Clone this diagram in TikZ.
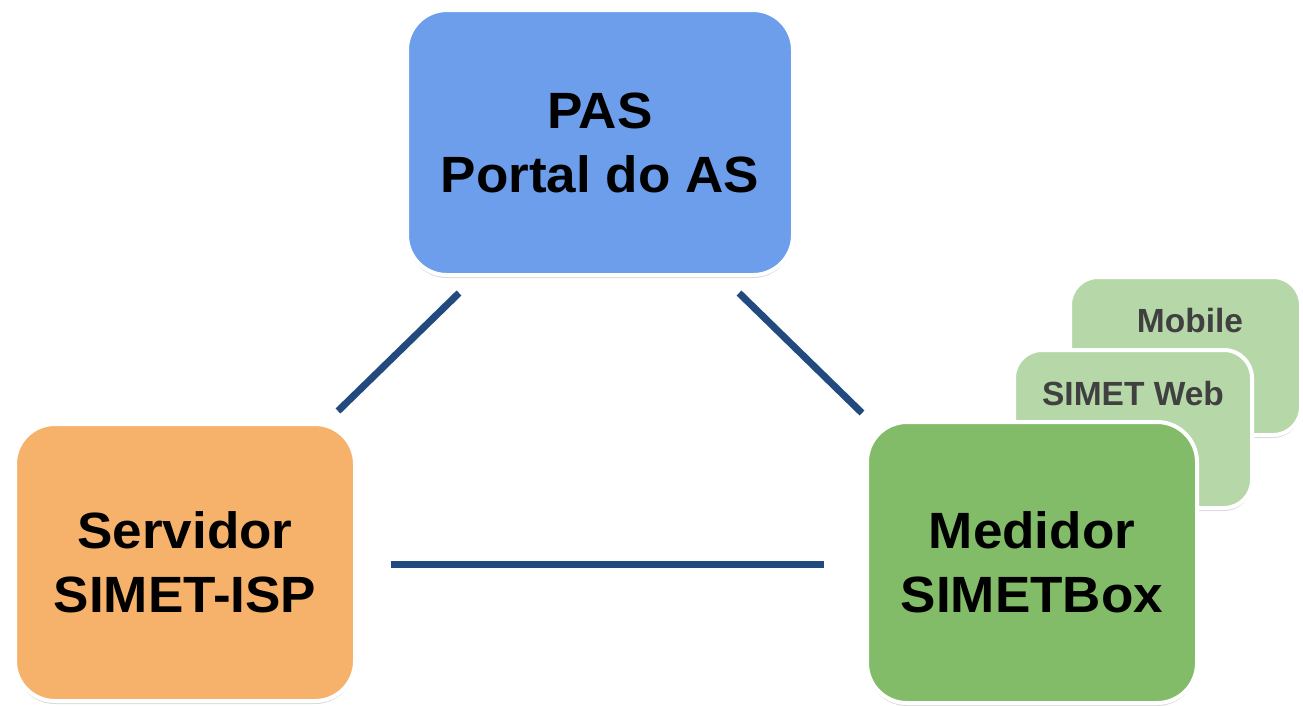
\documentclass[tikz,border=0pt]{standalone}
\usepackage{fontspec}
\setmainfont{Liberation Sans}
\newfontfamily\widefont[FakeStretch=1.04]{Liberation Sans}
\usetikzlibrary{shadows}
\definecolor{pasblue}{HTML}{6D9EEB}
\definecolor{srvorange}{HTML}{F6B26B}
\definecolor{medgreen}{HTML}{82BC68}
\definecolor{cardgreen}{HTML}{B6D7A8}
\definecolor{linkblue}{HTML}{224A7E}
\definecolor{cardtext}{HTML}{404040}
\begin{document}
\begin{tikzpicture}[x=1pt,y=-1pt,
  mainbox/.style={draw=white, line width=4pt, rounded corners=40pt,
    drop shadow={shadow xshift=0pt, shadow yshift=-3pt, opacity=0.3},
    align=center, inner sep=0pt,
    font=\widefont\fontsize{51}{64}\selectfont\bfseries},
  cardbox/.style={draw=white, line width=4pt, rounded corners=28pt, fill=cardgreen,
    drop shadow={shadow xshift=0pt, shadow yshift=-3pt, opacity=0.3}},
  cardlabel/.style={text=cardtext, inner sep=0pt, anchor=base,
    font=\fontsize{33.5}{40}\selectfont\bfseries},
  link/.style={draw=linkblue, line width=7pt}]
\useasboundingbox (0,0) rectangle (1303,705);
% background cards
\node[cardbox, minimum width=231pt, minimum height=158pt] (mobile) at (1185.5,356) {};
\node[cardlabel] (mobiletxt) at (1190,332) {Mobile};
\node[cardbox, minimum width=238pt, minimum height=158pt] (web) at (1133,429) {};
\node[cardlabel] (webtxt) at (1133,405) {SIMET Web};
% main boxes
\node[mainbox, fill=pasblue, minimum width=386pt, minimum height=265pt] (pas) at (600,142.5)
  {PAS\\Portal do AS};
\node[mainbox, fill=srvorange, minimum width=340pt, minimum height=277pt] (srv) at (185,562.5)
  {Servidor\\SIMET-ISP};
\node[mainbox, fill=medgreen, minimum width=330pt, minimum height=281pt] (med) at (1032,562.5)
  {Medidor\\SIMETBox};
% connector end points
\coordinate (a1) at (459,293);
\coordinate (a2) at (338,411);
\coordinate (b1) at (739,293);
\coordinate (b2) at (862,413);
\coordinate (c1) at (391,564);
\coordinate (c2) at (824,564);
\draw[link] (a1) -- (a2);
\draw[link] (b1) -- (b2);
\draw[link] (c1) -- (c2);
\end{tikzpicture}
\end{document}
